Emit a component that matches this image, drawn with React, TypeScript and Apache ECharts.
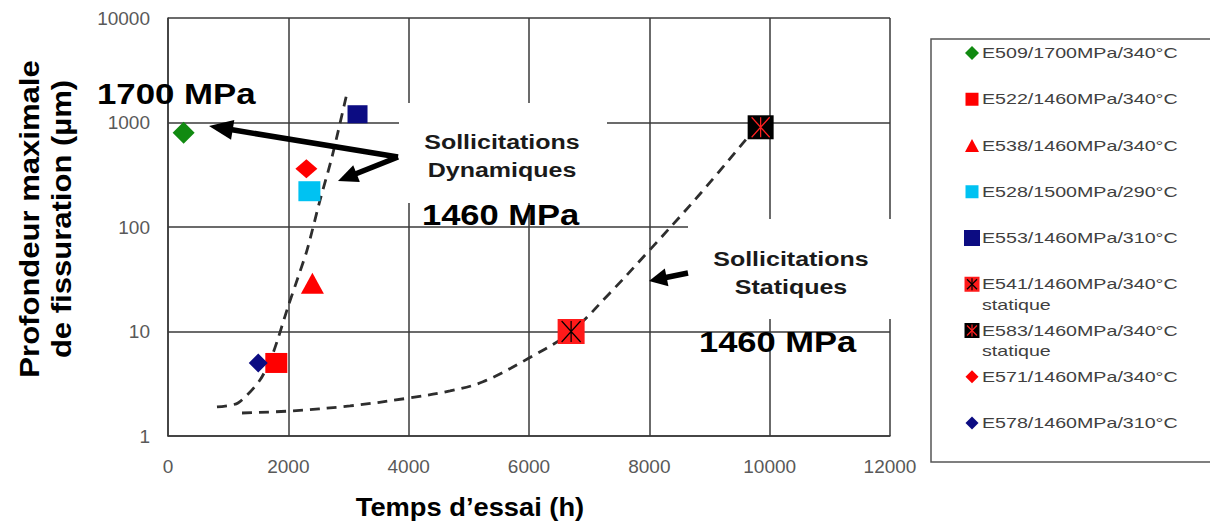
import React, { useEffect, useRef } from "react";
import * as echarts from "echarts";

// ---- data ----
const seriesNames = [
  "E509/1700MPa/340°C",
  "E522/1460MPa/340°C",
  "E538/1460MPa/340°C",
  "E528/1500MPa/290°C",
  "E553/1460MPa/310°C",
  "E541/1460MPa/340°C\nstatique",
  "E583/1460MPa/340°C\nstatique",
  "E571/1460MPa/340°C",
  "E578/1460MPa/310°C",
];
const hours = [260, 1800, 2400, 2350, 3150, 6700, 9850, 2300, 1500];
const depth = [800, 5, 29, 220, 1200, 10, 900, 360, 5];

const dynCurveX = [814, 1163, 1529, 1745, 1994, 2161, 2311, 2527, 2726, 2975];
const dynCurveY = [1.9, 2.07, 3.43, 6.2, 17.2, 33, 60, 181, 468, 1915];

const statCurveX = [1230, 1994, 3025, 4006, 4687, 5235, 6000, 6698, 7346, 7961, 8842, 9630];
const statCurveY = [1.66, 1.73, 1.94, 2.31, 2.7, 3.3, 5.57, 9.9, 23.4, 56.4, 207, 715];

const xMin = 0;
const xMax = 12000;
const xStep = 2000;
const yMin = 1;
const yMax = 10000;

// ---- styles ----
const FONT = "'Liberation Sans', Arial, sans-serif";
const GRID_COLOR = "#3a3a3a";
const markerStyles = [
  { symbol: "diamond", size: [22, 22], color: "#118a11", star: null, legend: "diamond", lsize: [14, 14] },
  { symbol: "rect", size: [22, 20], color: "#ff0000", star: null, legend: "rect", lsize: [13, 13] },
  { symbol: "triangle", size: [23, 21], color: "#ff0000", star: null, legend: "triangle", lsize: [14, 13] },
  { symbol: "rect", size: [22, 20], color: "#00c2f2", star: null, legend: "rect", lsize: [13, 13] },
  { symbol: "rect", size: [20, 18], color: "#0c0c82", star: null, legend: "rect", lsize: [16, 16] },
  { symbol: "rect", size: [27, 25], color: "#ff1a1a", star: "#000000", legend: "rect", lsize: [15, 15] },
  { symbol: "rect", size: [26, 24], color: "#000000", star: "#ff2020", legend: "rect", lsize: [15, 15] },
  { symbol: "diamond", size: [22, 19], color: "#ff0000", star: null, legend: "diamond", lsize: [13, 13] },
  { symbol: "diamond", size: [19, 19], color: "#0c0c82", star: null, legend: "diamond", lsize: [13, 13] },
];
const STAR_PATH = "path://M0,0L10,10M10,0L0,10M5,0L5,10";

function arrow(x1: number, y1: number, x2: number, y2: number, w: number, hl: number, hw: number) {
  const dx = x2 - x1;
  const dy = y2 - y1;
  const len = Math.sqrt(dx * dx + dy * dy);
  const ux = dx / len;
  const uy = dy / len;
  const bx = x2 - ux * hl;
  const by = y2 - uy * hl;
  const nx = -uy;
  const ny = ux;
  return [
    {
      type: "line",
      z: 100,
      shape: { x1, y1, x2: bx + ux * 2, y2: by + uy * 2 },
      style: { stroke: "#000", lineWidth: w },
    },
    {
      type: "polygon",
      z: 100,
      shape: {
        points: [
          [x2, y2],
          [bx + nx * hw, by + ny * hw],
          [bx - nx * hw, by - ny * hw],
        ],
      },
      style: { fill: "#000" },
    },
  ];
}

function txt(text: string, x: number, y: number, opts: any) {
  return {
    type: "text",
    z: 100,
    x,
    y,
    scaleX: opts.scaleX || 1,
    rotation: opts.rotation || 0,
    style: {
      text,
      x: 0,
      y: 0,
      fill: opts.fill || "#000",
      font: opts.font,
      lineHeight: opts.lineHeight,
      textAlign: opts.align || "left",
      textVerticalAlign: "middle",
      verticalAlign: "middle",
    },
  };
}

function legendGraphics() {
  const els: any[] = [];
  els.push({
    type: "rect",
    z: 50,
    shape: { x: 931, y: 39, width: 290, height: 423 },
    style: { fill: "#fff", stroke: "#555", lineWidth: 1.5 },
  });
  seriesNames.forEach((name, i) => {
    const m = markerStyles[i];
    const cy = 53 + i * 46.25;
    const cx = 972;
    const [w, h] = m.lsize;
    if (m.legend === "rect") {
      els.push({ type: "rect", z: 60, shape: { x: cx - w / 2, y: cy - h / 2, width: w, height: h }, style: { fill: m.color } });
    } else if (m.legend === "diamond") {
      els.push({
        type: "polygon",
        z: 60,
        shape: { points: [[cx, cy - h / 2], [cx + w / 2, cy], [cx, cy + h / 2], [cx - w / 2, cy]] },
        style: { fill: m.color },
      });
    } else {
      els.push({
        type: "polygon",
        z: 60,
        shape: { points: [[cx, cy - h / 2], [cx + w / 2, cy + h / 2], [cx - w / 2, cy + h / 2]] },
        style: { fill: m.color },
      });
    }
    if (m.star) {
      const s = 5;
      const st = { stroke: m.star, lineWidth: 1.2 };
      els.push({ type: "line", z: 61, shape: { x1: cx - s, y1: cy - s, x2: cx + s, y2: cy + s }, style: st });
      els.push({ type: "line", z: 61, shape: { x1: cx + s, y1: cy - s, x2: cx - s, y2: cy + s }, style: st });
      els.push({ type: "line", z: 61, shape: { x1: cx, y1: cy - s - 1, x2: cx, y2: cy + s + 1 }, style: st });
    }
    const lines = name.split("\n");
    lines.forEach((ln, j) => {
      els.push(
        txt(ln, 982, cy + j * 20.5, {
          font: `15px ${FONT}`,
          fill: "#404040",
          scaleX: 1.31,
        })
      );
    });
  });
  return els;
}

export default function App() {
  const ref = useRef<HTMLDivElement>(null);
  useEffect(() => {
    if (!ref.current) return;
    const chart = echarts.init(ref.current, null, { renderer: "svg" });

    const scatterSeries: any[] = [];
    seriesNames.forEach((name, i) => {
      const m = markerStyles[i];
      scatterSeries.push({
        name,
        type: "scatter",
        z: 5,
        symbol: m.symbol,
        symbolSize: m.size,
        itemStyle: { color: m.color, opacity: 1 },
        data: [[hours[i], depth[i]]],
      });
      if (m.star) {
        scatterSeries.push({
          name: name + " *",
          type: "scatter",
          z: 6,
          symbol: STAR_PATH,
          symbolSize: [m.size[0] - 8, m.size[1] - 4],
          itemStyle: { color: "rgba(0,0,0,0)", borderColor: m.star, borderWidth: 1.3, opacity: 1 },
          data: [[hours[i], depth[i]]],
        });
      }
    });

    const curveStyle = { type: [10, 7], width: 2.8, color: "#2e2e2e" };

    const axisLabelStyle = {
      color: "#595959",
      fontSize: 19,
      fontFamily: FONT,
      formatter: (v: number) => String(Math.round(v)),
    };

    const option: any = {
      animation: false,
      backgroundColor: "#fff",
      grid: { left: 168, right: 320, top: 18, bottom: 91, containLabel: false },
      xAxis: {
        type: "value",
        min: xMin,
        max: xMax,
        interval: xStep,
        axisLine: { show: true, lineStyle: { color: GRID_COLOR, width: 1.5 } },
        axisTick: { show: false },
        splitLine: { show: true, lineStyle: { color: GRID_COLOR, width: 1.5 } },
        axisLabel: { ...axisLabelStyle, margin: 21 },
      },
      yAxis: {
        type: "log",
        logBase: 10,
        min: yMin,
        max: yMax,
        axisLine: { show: true, lineStyle: { color: GRID_COLOR, width: 1.5 } },
        axisTick: { show: false },
        splitLine: { show: true, lineStyle: { color: GRID_COLOR, width: 1.5 } },
        minorTick: { show: false },
        axisLabel: { ...axisLabelStyle, margin: 18 },
      },
      series: [
        {
          name: "Dynamique",
          type: "line",
          z: 3,
          smooth: 0.25,
          symbol: "none",
          lineStyle: curveStyle,
          data: dynCurveX.map((x, i) => [x, dynCurveY[i]]),
        },
        {
          name: "Statique",
          type: "line",
          z: 3,
          smooth: 0.35,
          symbol: "none",
          lineStyle: curveStyle,
          data: statCurveX.map((x, i) => [x, statCurveY[i]]),
        },
        ...scatterSeries,
      ],
      graphic: [
        // white boxes behind annotation texts
        { type: "rect", z: 1, shape: { x: 399, y: 103, width: 208, height: 100 }, style: { fill: "#fff" } },
        { type: "rect", z: 1, shape: { x: 688, y: 219, width: 206, height: 100 }, style: { fill: "#fff" } },
        // annotations
        txt("1700 MPa", 97, 94, { font: `bold 29px ${FONT}`, scaleX: 1.2 }),
        txt("Sollicitations\nDynamiques", 502, 156, {
          font: `bold 20px ${FONT}`,
          lineHeight: 28,
          scaleX: 1.25,
          align: "center",
          fill: "#1a1a1a",
        }),
        txt("1460 MPa", 422, 215, { font: `bold 29px ${FONT}`, scaleX: 1.19 }),
        txt("Sollicitations\nStatiques", 791, 273, {
          font: `bold 20px ${FONT}`,
          lineHeight: 28,
          scaleX: 1.25,
          align: "center",
          fill: "#1a1a1a",
        }),
        txt("1460 MPa", 699, 342, { font: `bold 29px ${FONT}`, scaleX: 1.19 }),
        ...arrow(398, 157, 209, 126, 5.5, 24, 10),
        ...arrow(398, 157, 338, 181, 5.5, 20, 9),
        ...arrow(688, 273, 649, 281, 5.5, 18, 9),
        // axis titles
        txt("Temps d’essai (h)", 470, 507, { font: `bold 26px ${FONT}`, scaleX: 1.05, align: "center" }),
        txt("Profondeur maximale\nde fissuration (µm)", 46, 219, {
          font: `bold 27px ${FONT}`,
          lineHeight: 32,
          scaleX: 1.15,
          rotation: Math.PI / 2,
          align: "center",
        }),
        ...legendGraphics(),
      ],
    };
    chart.setOption(option);
    return () => chart.dispose();
  }, []);
  return (
    <div
      ref={ref}
      style={{ position: "fixed", left: 0, top: 0, width: 1210, height: 527, background: "#fff" }}
    />
  );
}
